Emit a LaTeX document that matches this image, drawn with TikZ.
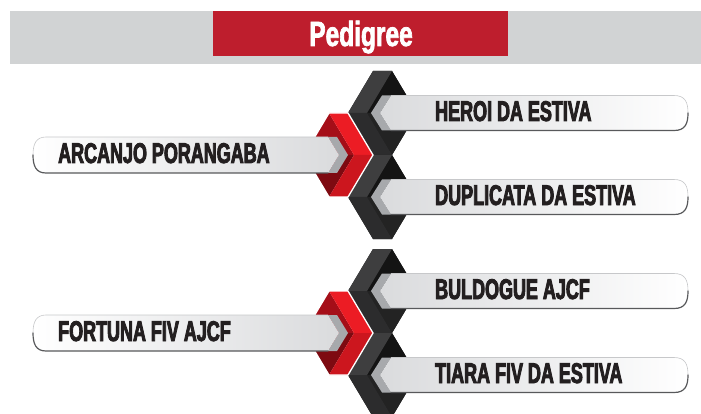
\documentclass[tikz,border=0pt]{standalone}
\usepackage{fontspec}
\newfontfamily\namefont{Liberation Sans}[FakeStretch=0.63, FakeBold=3]
\newfontfamily\headfont{Liberation Sans}[FakeStretch=0.70, FakeBold=2]
\definecolor{bandgray}{HTML}{D1D3D4}
\definecolor{headred}{HTML}{BE1E2D}
\definecolor{txt}{HTML}{231F20}
\definecolor{boxgray}{HTML}{DADBDD}
\definecolor{shadowgray}{HTML}{A7A9AC}
\definecolor{edgedark}{HTML}{58595B}
\definecolor{edgelight}{HTML}{C7C8CA}
\definecolor{dkback}{HTML}{1B1B1B}
\definecolor{dkface}{HTML}{3E3E3F}
\definecolor{dkfacelow}{HTML}{2C2C2D}
\definecolor{dkwall}{HTML}{141414}
\definecolor{dkwalllow}{HTML}{232323}
\definecolor{rdface}{HTML}{EC1C24}
\definecolor{rdfacelow}{HTML}{CC161E}
\definecolor{rdwall}{HTML}{A50E18}
\definecolor{rdwalllow}{HTML}{7E0A11}
\tikzset{
  nm/.style={font=\namefont\bfseries\fontsize{28.5}{28.5}\selectfont, text=txt, inner sep=0pt, anchor=base west},
  hd/.style={font=\headfont\bfseries\fontsize{35}{35}\selectfont, text=white, inner sep=0pt, anchor=base},
  boxedge/.style={draw=edgedark, line width=1.2pt, line cap=round},
  boxtop/.style={draw=edgelight, line width=0.6pt}
}
% dark hexagon chevron "<" centred at y=#1
\newcommand\DarkHex[1]{%
  \fill[dkback] (373,#1-42) -- (392,#1-42) -- (417,#1) -- (392,#1+42) -- (373,#1+42) -- (348,#1) -- cycle;
  \fill[dkwall] (392,#1-42) -- (417,#1) -- (367,#1) -- cycle;
  \fill[dkwalllow] (367,#1) -- (417,#1) -- (392,#1+42) -- cycle;
  \fill[dkface] (373,#1-42) -- (392,#1-42) -- (367,#1) -- (348,#1) -- cycle;
  \fill[dkfacelow] (348,#1) -- (367,#1) -- (392,#1+42) -- (373,#1+42) -- cycle;
}
% red hexagon chevron ">" centred at y=#1
\newcommand\RedHex[1]{%
  \fill[rdwall] (329,#1-42) -- (354,#1) -- (304,#1) -- cycle;
  \fill[rdwalllow] (304,#1) -- (354,#1) -- (329,#1+42) -- cycle;
  \fill[rdface] (329,#1-42) -- (348,#1-42) -- (373,#1) -- (354,#1) -- cycle;
  \fill[rdfacelow] (354,#1) -- (373,#1) -- (348,#1+42) -- (329,#1+42) -- cycle;
  \draw[white, line width=1.3pt, line join=miter] (329,#1-42) -- (348,#1-42) -- (373,#1) -- (348,#1+42) -- (329,#1+42) -- (304,#1) -- cycle;
}
% right box, pointed left end, centred at y=#1
\newcommand\RBox[1]{%
  \fill[shadowgray] (371,#1) -- (382,#1-17.5) -- (391,#1-17.5) -- (380,#1) -- (391,#1+17.5) -- (382,#1+17.5) -- cycle;
  \shade[left color=boxgray, right color=white] (380,#1) -- (391,#1-17.5) -- (674,#1-17.5)
     .. controls (685,#1-17.5) and (688,#1-11) .. (688,#1)
     .. controls (688,#1+11) and (685,#1+17.5) .. (674,#1+17.5) -- (391,#1+17.5) -- cycle;
  \draw[boxtop] (391,#1-17.5) -- (674,#1-17.5) .. controls (685,#1-17.5) and (688,#1-11) .. (688,#1);
  \draw[boxedge] (391,#1+17.5) -- (674,#1+17.5) .. controls (685,#1+17.5) and (688,#1+11) .. (688,#1);
}
% left box, pointed right end, centred at y=#1
\newcommand\LBox[1]{%
  \fill[shadowgray] (348,#1) -- (337,#1-18) -- (328,#1-18) -- (339,#1) -- (328,#1+18) -- (337,#1+18) -- cycle;
  \shade[left color=white, right color=boxgray] (339,#1) -- (328,#1-18) -- (46,#1-18)
     .. controls (36,#1-18) and (33,#1-11) .. (33,#1)
     .. controls (33,#1+11) and (36,#1+18) .. (46,#1+18) -- (328,#1+18) -- cycle;
  \draw[boxtop] (328,#1-18) -- (46,#1-18) .. controls (36,#1-18) and (33,#1-11) .. (33,#1);
  \draw[boxedge] (328,#1+18) -- (46,#1+18) .. controls (36,#1+18) and (33,#1+11) .. (33,#1);
}
\begin{document}
\begin{tikzpicture}[x=1pt, y=-1pt]
\useasboundingbox (0,0) rectangle (701,414);
\clip (0,0) rectangle (701,414);
% header
\fill[bandgray] (10,11) rectangle (701,64);
\fill[headred] (213,11) rectangle (508,56);
\node[hd] (title) at (361,46) {Pedigree};
% group 1
\DarkHex{113}
\DarkHex{197}
\RedHex{155}
\RBox{113}
\RBox{197}
\LBox{155}
\node[nm] (heroi) at (435,121) {HEROI DA ESTIVA};
\node[nm] (duplicata) at (435,205) {DUPLICATA DA ESTIVA};
\node[nm] (arcanjo) at (58,163) {ARCANJO PORANGABA};
% group 2
\DarkHex{291}
\DarkHex{375}
\RedHex{333}
\RBox{291}
\RBox{375}
\LBox{333}
\node[nm] (buldogue) at (435,299) {BULDOGUE AJCF};
\node[nm] (tiara) at (435,383) {TIARA FIV DA ESTIVA};
\node[nm] (fortuna) at (58,341) {FORTUNA FIV AJCF};
\end{tikzpicture}
\end{document}
